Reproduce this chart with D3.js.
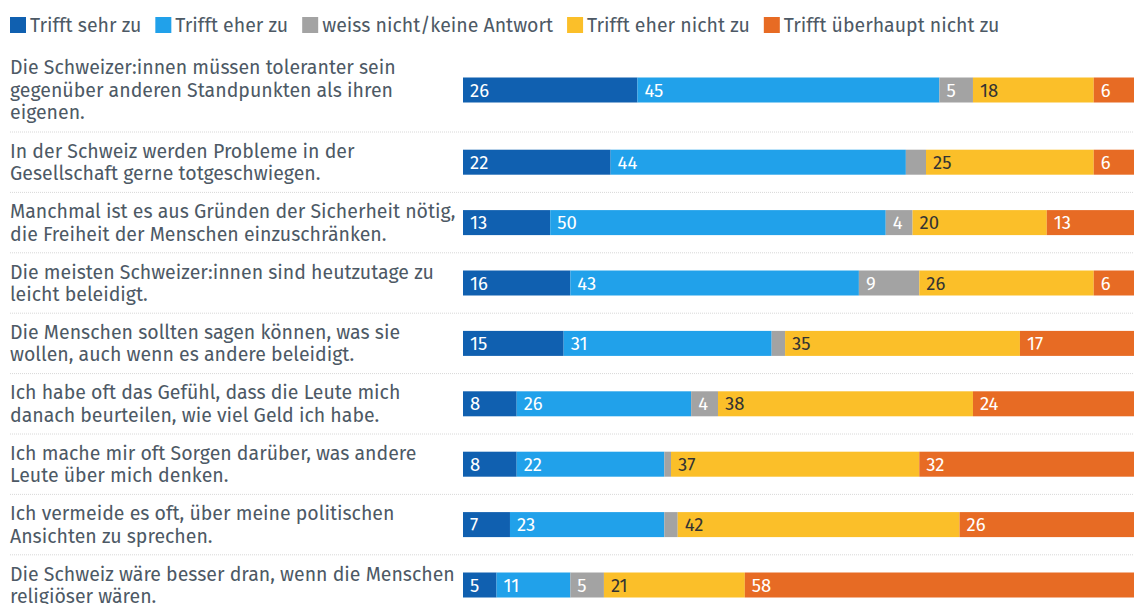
<!DOCTYPE html>
<html>
<head>
<meta charset="utf-8">
<script src="https://cdn.jsdelivr.net/npm/d3@7"></script>
<style>
  body { margin: 0; background: #fff; }
  svg { display: block; }
  text { font-family: "Fira Sans", "Noto Sans", sans-serif; }
</style>
</head>
<body>
<div class="chart"></div>
<script>
const categories = [
  "Die Schweizer:innen müssen toleranter sein\ngegenüber anderen Standpunkten als ihren\neigenen.",
  "In der Schweiz werden Probleme in der\nGesellschaft gerne totgeschwiegen.",
  "Manchmal ist es aus Gründen der Sicherheit nötig,\ndie Freiheit der Menschen einzuschränken.",
  "Die meisten Schweizer:innen sind heutzutage zu\nleicht beleidigt.",
  "Die Menschen sollten sagen können, was sie\nwollen, auch wenn es andere beleidigt.",
  "Ich habe oft das Gefühl, dass die Leute mich\ndanach beurteilen, wie viel Geld ich habe.",
  "Ich mache mir oft Sorgen darüber, was andere\nLeute über mich denken.",
  "Ich vermeide es oft, über meine politischen\nAnsichten zu sprechen.",
  "Die Schweiz wäre besser dran, wenn die Menschen\nreligiöser wären."
];

const seriesNames = ["Trifft sehr zu", "Trifft eher zu", "weiss nicht/keine Antwort", "Trifft eher nicht zu", "Trifft überhaupt nicht zu"];

const sehrZu      = [26, 22, 13, 16, 15, 8, 8, 7, 5];
const eherZu      = [45, 44, 50, 43, 31, 26, 22, 23, 11];
const weissNicht  = [5, 3, 4, 9, 2, 4, 1, 2, 5];
const eherNicht   = [18, 25, 20, 26, 35, 38, 37, 42, 21];
const ueberhauptNicht = [6, 6, 13, 6, 17, 24, 32, 26, 58];

const colors = ["#1060b0", "#21a1ea", "#a3a3a3", "#fbbf29", "#e76b24"];
const labelColors = ["#fff", "#fff", "#fff", "#333", "#fff"];

const width = 1134, height = 604;
const textColor = "#4d5965";

const svg = d3.select(".chart").append("svg")
  .attr("width", width)
  .attr("height", height);

// legend
const legend = svg.append("g").attr("transform", "translate(10,25)");
let lx = 0;
seriesNames.forEach((name, i) => {
  const g = legend.append("g").attr("transform", "translate(" + lx + ",0)");
  g.append("rect")
    .attr("x", 0).attr("y", -8)
    .attr("width", 16).attr("height", 16)
    .attr("fill", colors[i]);
  const t = g.append("text")
    .attr("x", 20).attr("y", 0)
    .attr("dy", "0.35em")
    .attr("font-size", 19.5)
    .attr("fill", textColor)
    .text(name);
  lx += 20 + t.node().getComputedTextLength() + 14;
});

// rows
const rows = categories.map((c, i) => {
  const vals = [sehrZu[i], eherZu[i], weissNicht[i], eherNicht[i], ueberhauptNicht[i]];
  let acc = 0;
  const segs = vals.map((v, k) => {
    const s = { k: k, v: v, x0: acc, x1: acc + v };
    acc += v;
    return s;
  });
  return { lines: c.split("\n"), segs: segs };
});

const lineH = 22.5;
let y = 48;
rows.forEach(r => {
  r.top = y;
  r.h = r.lines.length * 23.6 + 13.2;
  r.cy = y + r.h / 2;
  y += r.h;
});

const x = d3.scaleLinear().domain([0, 100]).range([463, width]);
const barH = 25;

const row = svg.selectAll(".row")
  .data(rows)
  .enter().append("g")
  .attr("class", "row");

// dotted separators
row.filter((d, i) => i < rows.length - 1)
  .append("line")
  .attr("x1", 10).attr("x2", width)
  .attr("y1", d => d.top + d.h).attr("y2", d => d.top + d.h)
  .attr("stroke", "#d8d8d8")
  .attr("stroke-width", 1)
  .attr("stroke-dasharray", "1,1");

// category labels
row.append("text")
  .attr("x", 10)
  .attr("y", d => d.cy - (d.lines.length - 1) * lineH / 2)
  .attr("font-size", 19.5)
  .attr("fill", textColor)
  .selectAll("tspan")
  .data(d => d.lines)
  .enter().append("tspan")
  .attr("x", 10)
  .attr("dy", (d, i) => i === 0 ? "0.35em" : lineH)
  .text(d => d);

// bars
row.each(function(r) {
  const g = d3.select(this);
  g.selectAll("rect.seg")
    .data(r.segs)
    .enter().append("rect")
    .attr("class", "seg")
    .attr("x", d => x(d.x0))
    .attr("y", r.cy - barH / 2)
    .attr("width", d => x(d.x1) - x(d.x0))
    .attr("height", barH)
    .attr("fill", d => colors[d.k]);

  g.selectAll("text.val")
    .data(r.segs.filter(d => d.v >= 4))
    .enter().append("text")
    .attr("class", "val")
    .attr("x", d => x(d.x0) + 7)
    .attr("y", r.cy)
    .attr("dy", "0.36em")
    .attr("font-size", 18.5)
    .attr("font-family", "'Liberation Sans Narrow', 'DejaVu Sans Condensed', 'Roboto', sans-serif")
    .attr("fill", d => labelColors[d.k])
    .text(d => d.v);
});
</script>
</body>
</html>
